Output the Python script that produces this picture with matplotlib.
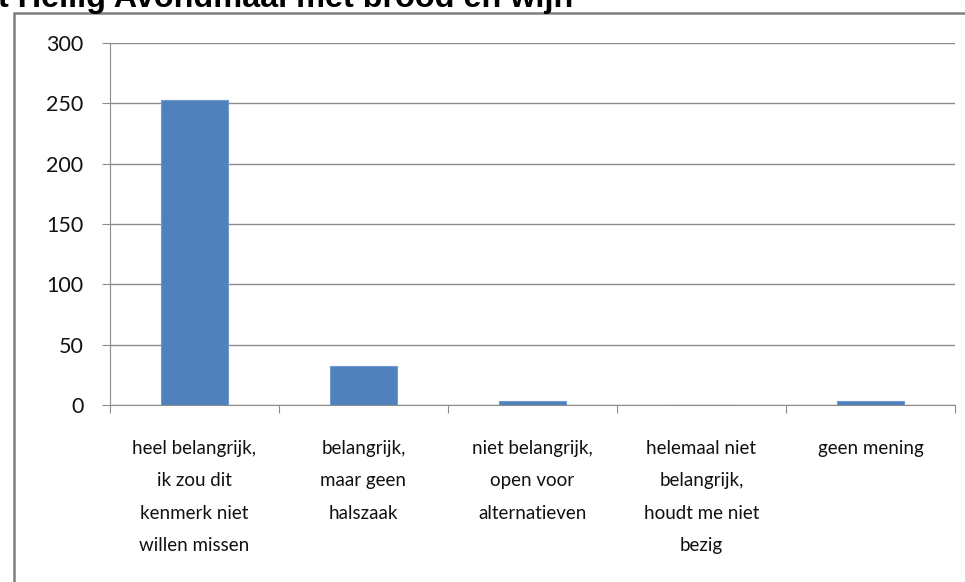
import matplotlib.pyplot as plt
import matplotlib.patches as patches
import numpy as np

# ============================== DATA =================================
categories = [
    "heel belangrijk,\nik zou dit\nkenmerk niet\nwillen missen",
    "belangrijk,\nmaar geen\nhalszaak",
    "niet belangrijk,\nopen voor\nalternatieven",
    "helemaal niet\nbelangrijk,\nhoudt me niet\nbezig",
    "geen mening",
]
counts = [253, 32, 3, 0, 3]
y_ticks = [0, 50, 100, 150, 200, 250, 300]
title = "t Heilig Avondmaal met brood en wijn"

# ============================== PLOT =================================
W, H = 965, 582
fig = plt.figure(figsize=(W / 100, H / 100), dpi=100)
ax = fig.add_axes([110 / W, 1 - 405 / H, 845 / W, 362 / H])

x = np.arange(len(categories))
ax.bar(x, counts, width=0.4, color="#4F81BD", edgecolor="#6F9AD0", linewidth=0.8, zorder=3)

ax.set_xlim(-0.5, len(categories) - 0.5)
ax.set_ylim(0, 300)
ax.set_yticks(y_ticks)
ax.set_yticklabels([str(v) for v in y_ticks], fontsize=15.5, family="Lato", color="#111111")
ax.yaxis.grid(True, color="#8c8c8c", linewidth=1, zorder=0)

# category boundaries as x ticks, labels in the middle
ax.set_xticks(np.arange(len(categories) + 1) - 0.5)
ax.set_xticklabels([])
ax.set_xticks(x, minor=True)
ax.set_xticklabels(categories, minor=True, fontsize=13.5, family="Lato",
                   linespacing=2.1, color="#111111")
ax.tick_params(axis="x", which="major", direction="out", length=6, color="#8c8c8c")
ax.tick_params(axis="x", which="minor", length=0, pad=25)
ax.tick_params(axis="y", direction="out", length=6, color="#8c8c8c", pad=13)

for side in ["top", "right"]:
    ax.spines[side].set_visible(False)
for side in ["left", "bottom"]:
    ax.spines[side].set_color("#8c8c8c")

# outer chart frame
frame = patches.Rectangle((14 / W, -0.1), 1.2, 1 - 13 / H + 0.1, transform=fig.transFigure,
                          fill=False, edgecolor="#7f7f7f", linewidth=1.8)
fig.patches.append(frame)

fig.text(-2 / W, 1 - 7.5 / H, title, fontsize=23.3, fontweight="bold",
         family="Liberation Sans", va="baseline", ha="left")

fig.savefig("out.png", dpi=100)
